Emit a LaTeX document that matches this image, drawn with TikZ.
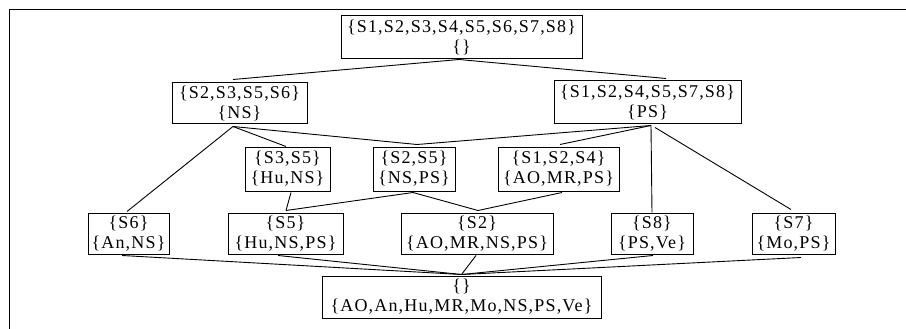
\documentclass[tikz,border=0pt]{standalone}
\usepackage{fontspec}
\setmainfont{Liberation Serif}[LetterSpace=6.5]
\begin{document}
\begin{tikzpicture}[x=1pt,y=-1pt,
  box/.style={draw, line width=1pt, align=center, inner sep=0pt,
    font=\fontsize{18}{20}\selectfont},
  conn/.style={line width=0.9pt}]
\useasboundingbox (0,0) rectangle (906,329);
\draw[line width=1.4pt] (9.5,329) -- (9.5,9.5) -- (906,9.5);
% nodes
\node[box, minimum width=241pt, minimum height=43pt] (top) at (461.5,37.5) {\{S1,S2,S3,S4,S5,S6,S7,S8\}\\\{\}};
\node[box, minimum width=135pt, minimum height=41pt] (ns) at (239.5,103.5) {\{S2,S3,S5,S6\}\\\{NS\}};
\node[box, minimum width=187pt, minimum height=43pt] (ps) at (647.5,102.5) {\{S1,S2,S4,S5,S7,S8\}\\\{PS\}};
\node[box, minimum width=85pt, minimum height=44pt] (s35) at (287.5,169) {\{S3,S5\}\\\{Hu,NS\}};
\node[box, minimum width=82pt, minimum height=44pt] (s25) at (414,169) {\{S2,S5\}\\\{NS,PS\}};
\node[box, minimum width=121pt, minimum height=44pt] (s124) at (558.5,169) {\{S1,S2,S4\}\\\{AO,MR,PS\}};
\node[box, minimum width=81pt, minimum height=41pt] (s6) at (128.5,233.5) {\{S6\}\\\{An,NS\}};
\node[box, minimum width=115pt, minimum height=41pt] (s5) at (285.5,233.5) {\{S5\}\\\{Hu,NS,PS\}};
\node[box, minimum width=152pt, minimum height=41pt] (s2) at (477,233.5) {\{S2\}\\\{AO,MR,NS,PS\}};
\node[box, minimum width=82pt, minimum height=41pt] (s8) at (652,233.5) {\{S8\}\\\{PS,Ve\}};
\node[box, minimum width=83pt, minimum height=41pt] (s7) at (793.5,233.5) {\{S7\}\\\{Mo,PS\}};
\node[box, minimum width=279pt, minimum height=42pt] (bot) at (461.5,297) {\{\}\\\{AO,An,Hu,MR,Mo,NS,PS,Ve\}};
% connectors
\draw[conn] ([xshift=-2.5pt]top.south) -- ([xshift=-6.5pt,yshift=3pt]ns.north);
\draw[conn] ([xshift=-2.5pt]top.south) -- ([xshift=18.5pt,yshift=2pt]ps.north);
\draw[conn] ([xshift=-6.5pt,yshift=-2pt]ns.south) -- ([xshift=-1.5pt,yshift=1pt]s6.north);
\draw[conn] ([xshift=-6.5pt,yshift=-2pt]ns.south) -- ([xshift=-1.5pt]s35.north);
\draw[conn] ([xshift=-6.5pt,yshift=-2pt]ns.south) -- ([xshift=3pt,yshift=2pt]s25.north);
\draw[conn] ([xshift=3.5pt,yshift=-1pt]ps.south) -- ([xshift=3pt,yshift=2pt]s25.north);
\draw[conn] ([xshift=3.5pt,yshift=-1pt]ps.south) -- ([xshift=1.5pt,yshift=2pt]s124.north);
\draw[conn] ([xshift=3.5pt,yshift=-1pt]ps.south) -- (s8.north);
\draw[conn] ([xshift=7.5pt,yshift=-3pt]ps.south) -- ([xshift=-2.5pt,yshift=3pt]s7.north);
\draw[conn] ([xshift=3.5pt,yshift=-1pt]s35.south) -- ([xshift=0.5pt,yshift=2pt]s5.north);
\draw[conn] ([xshift=-1pt,yshift=-1pt]s25.south) -- ([xshift=0.5pt,yshift=2pt]s5.north);
\draw[conn] ([xshift=-1pt,yshift=-1pt]s25.south) -- ([xshift=1pt,yshift=2pt]s2.north);
\draw[conn] ([xshift=3.5pt,yshift=-1pt]s124.south) -- ([xshift=1pt,yshift=2pt]s2.north);
\draw[conn] ([xshift=-6.5pt,yshift=-1pt]s6.south) -- ([yshift=1pt]bot.north);
\draw[conn] ([xshift=-7.5pt,yshift=-1pt]s5.south) -- ([yshift=1pt]bot.north);
\draw[conn] ([xshift=-1pt,yshift=-1pt]s2.south) -- ([yshift=1pt]bot.north);
\draw[conn] ([xshift=1pt,yshift=-1pt]s8.south) -- ([yshift=1pt]bot.north);
\draw[conn] ([xshift=7.5pt,yshift=-3pt]s7.south) -- ([yshift=1pt]bot.north);
\end{tikzpicture}
\end{document}
